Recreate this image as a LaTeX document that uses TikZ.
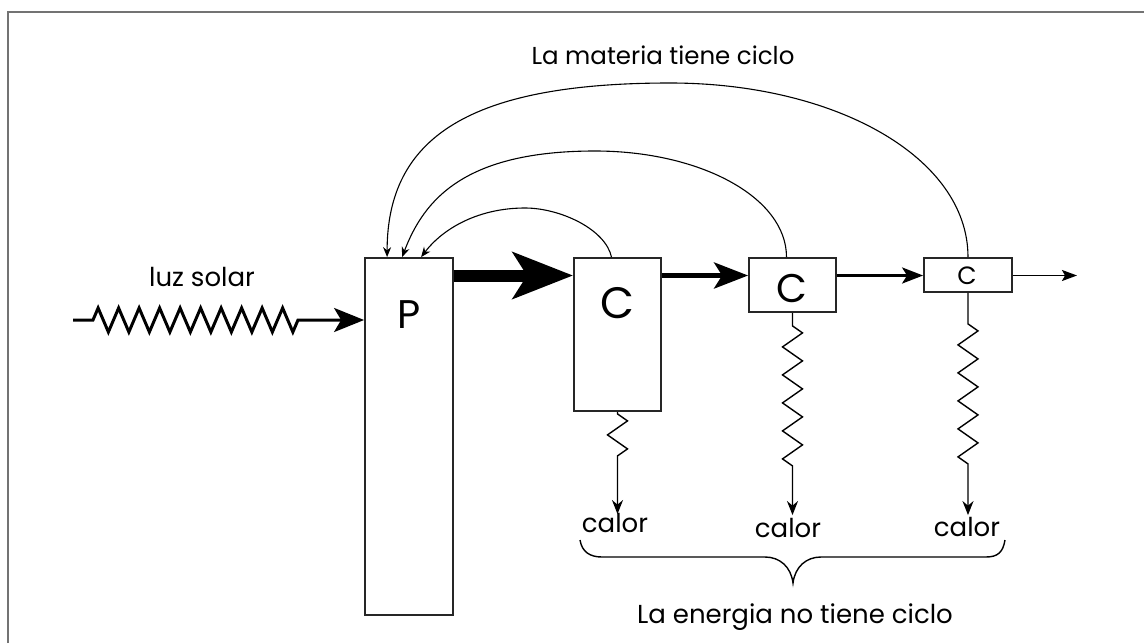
\documentclass[tikz,border=0pt]{standalone}
\usepackage{fontspec}
\setmainfont{Poppins}
\usetikzlibrary{arrows.meta,decorations.pathmorphing,calc}
\begin{document}
\begin{tikzpicture}[x=1pt,y=-1pt,
  box/.style={draw=black!85,line width=1.8pt,fill=white,inner sep=0pt},
  lbl/.style={font=\fontsize{26}{28}\selectfont,inner sep=2pt},
  letter/.style={inner sep=0pt},
  cyc/.style={line width=1.1pt,-{Stealth[length=10pt,width=8pt]}},
  heat/.style={line width=1.4pt,decorate,
    decoration={zigzag,amplitude=10pt,segment length=28pt,pre length=#1,post length=45pt},
    -{Stealth[length=14pt,width=11pt]}},
]
\useasboundingbox (0,0) rectangle (1144,643);
% frame
\draw[black!55,line width=2pt] (8,643) -- (8,12) -- (1144,12);

% compartments
\node[box,minimum width=88pt,minimum height=357pt] (p)  at (409,436.5) {};
\node[box,minimum width=87pt,minimum height=153pt] (c1) at (617.5,334.5) {};
\node[box,minimum width=87pt,minimum height=54pt]  (c2) at (792.5,285) {};
\node[box,minimum width=88pt,minimum height=34pt]  (c3) at (968,275) {};

\node[letter,font=\fontsize{40}{40}\selectfont] (pl)  at (409,315) {P};
\node[letter,font=\fontsize{44}{44}\selectfont] (c1l) at (617,303) {C};
\node[letter,font=\fontsize{40}{40}\selectfont] (c2l) at (792,288) {C};
\node[letter,font=\fontsize{25}{25}\selectfont] (c3l) at (967,276) {C};

% labels
\node[lbl,font=\fontsize{24.5}{28}\selectfont] (title) at (663,55) {La materia tiene ciclo};
\node[lbl] (luz)   at (202,277) {luz solar};
\node[lbl] (cal1)  at (615,523) {calor};
\node[lbl] (cal2)  at (788,528) {calor};
\node[lbl] (cal3)  at (967,527) {calor};
\node[lbl] (energ) at (795,617) {La energia no tiene ciclo};

% sunlight input
\coordinate (sun) at (73,320);
\draw[line width=3pt,decorate,
  decoration={zigzag,amplitude=12pt,segment length=20.5pt,pre length=20pt,post length=58pt},
  -{Stealth[length=30pt,width=24pt,inset=7pt]}] (sun) -- (p.west |- sun);

% food chain flow
\coordinate (row) at (0,275.5);
\coordinate (out) at (1077,275.5);
\draw[line width=12pt,-{Stealth[length=60pt,width=46pt,inset=14pt]}] (p.east |- row) -- (c1.west |- row);
\draw[line width=5pt,-{Stealth[length=34pt,width=26pt,inset=8pt]}] (c1.east |- row) -- (c2.west |- row);
\draw[line width=3pt,-{Stealth[length=21pt,width=16pt,inset=5pt]}] (c2.east |- row) -- (c3.west |- row);
\draw[line width=1.5pt,-{Stealth[length=15pt,width=11pt,inset=3pt]}] (c3.east |- row) -- (out);

% matter cycling back to the producer
\coordinate (apex3) at (670,83);
\coordinate (apex2) at (595,151);
\coordinate (apex1) at (525,208);
\draw[cyc] (c3.north) .. controls +(0,-100) and +(165,0) .. (apex3)
  .. controls +(-200,0) and +(0,-120) .. ($(p.north west)+(23,0)$);
\draw[cyc] ($(c2.north)+(-6,0)$) .. controls +(0,-60) and +(105,0) .. (apex2)
  .. controls +(-130,0) and +(22,-58) .. ($(p.north west)+(38,0)$);
\draw[cyc] ($(c1.north)+(-6,0)$) .. controls +(-6,-28) and +(35,0) .. (apex1)
  .. controls +(-45,0) and +(23,-30) .. ($(p.north west)+(57,0)$);

% heat losses
\draw[heat=2pt]  (c1.south) -- ($(c1.south |- cal1.north)+(0,3)$);
\draw[heat=13pt] (c2.south) -- ($(c2.south |- cal2.north)+(0,-1)$);
\draw[heat=31pt] (c3.south) -- ($(c3.south |- cal3.north)+(0,0)$);

% brace under the heat labels
\coordinate (brL) at (580,540);
\coordinate (brR) at (1005,540);
\coordinate (brT) at (793,583);
\draw[line width=1.4pt] (brL) .. controls (582,552) and (590,557) .. (602,557) -- (765,557)
  .. controls (780,557) and (791,567) .. (brT)
  .. controls (795,567) and (806,557) .. (821,557) -- (986,557)
  .. controls (998,557) and (1003,552) .. (brR);
\end{tikzpicture}
\end{document}
